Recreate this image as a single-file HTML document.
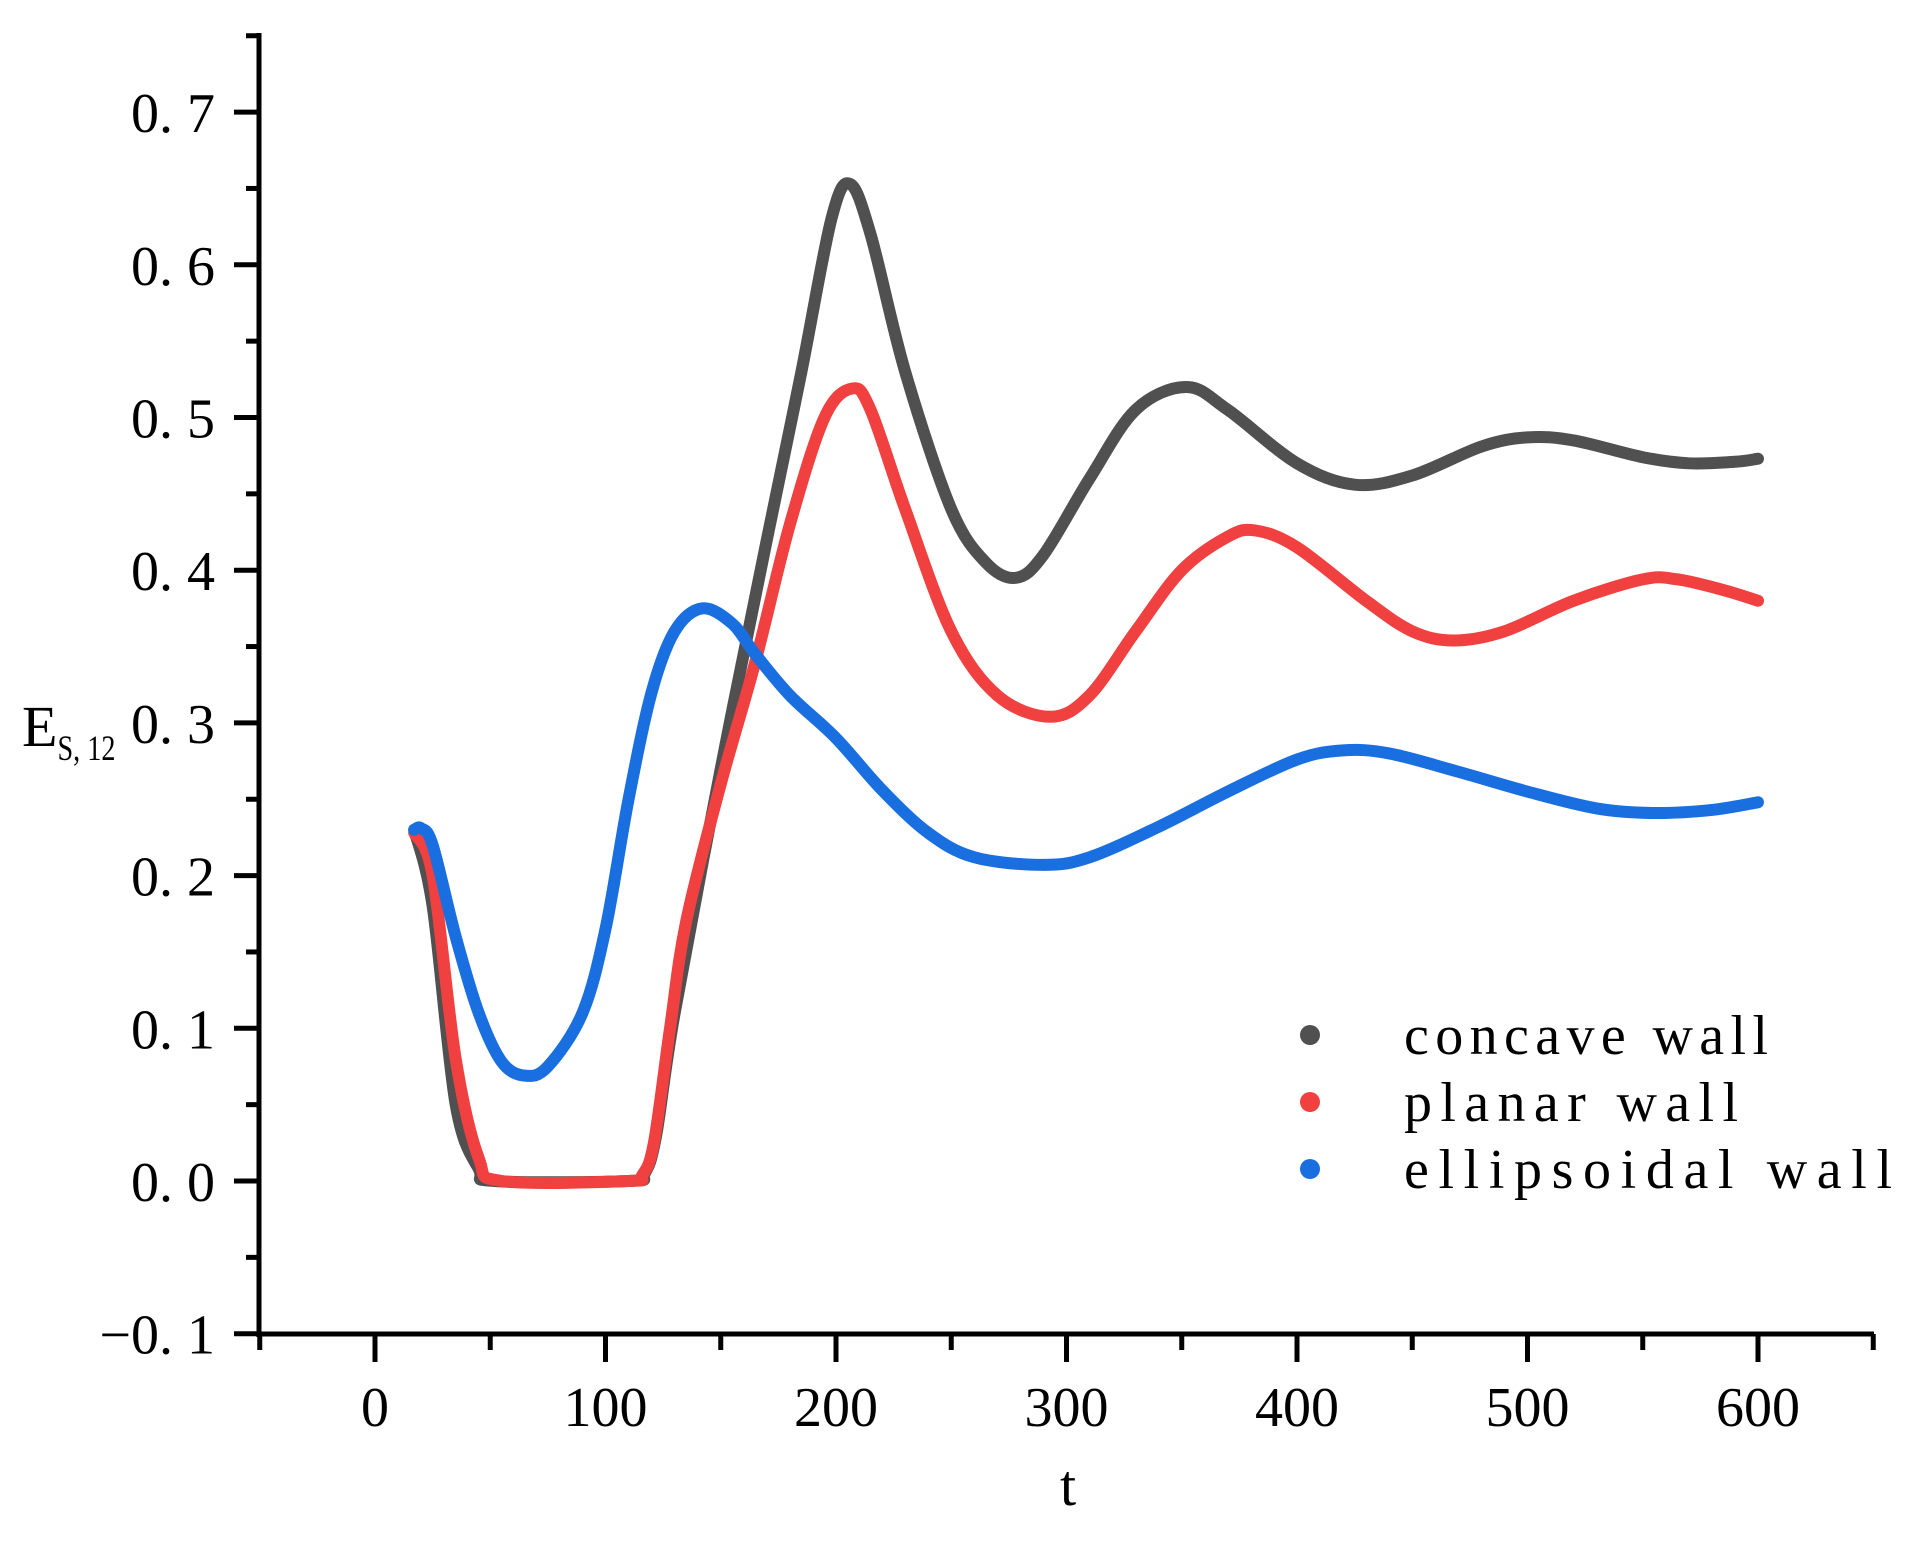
<!DOCTYPE html>
<html><head><meta charset="utf-8"><style>
html,body{margin:0;padding:0;background:#fff;}
svg{display:block;}
text{font-family:"Liberation Serif",serif;fill:#000;}
</style></head><body>
<svg id="s" width="1910" height="1542" viewBox="0 0 1910 1542" xmlns="http://www.w3.org/2000/svg">
<g stroke="#000" stroke-width="5" fill="none">
<line x1="259" y1="33" x2="259" y2="1337"/>
<line x1="256" y1="1334" x2="1874" y2="1334"/>
</g>
<g id="ticks" stroke="#000" stroke-width="5"></g>
<g id="labels" font-size="56"></g>
<text x="1068" y="1505" font-size="58" text-anchor="middle">t</text>
<text x="22" y="746" font-size="58">E<tspan font-size="36" dy="14" textLength="58" lengthAdjust="spacingAndGlyphs">S, 12</tspan></text>
<g id="curves" fill="none" stroke-width="12" stroke-linejoin="round" stroke-linecap="round"></g>
<circle cx="1310" cy="1035" r="10" fill="#505050"/>
<circle cx="1310" cy="1102" r="10" fill="#f04040"/>
<circle cx="1310" cy="1169" r="10" fill="#1a6fe0"/>
<g font-size="56">
<text x="1404" y="1054" textLength="364" lengthAdjust="spacing">concave wall</text>
<text x="1404" y="1121" textLength="334" lengthAdjust="spacing">planar wall</text>
<text x="1404" y="1188" textLength="488" lengthAdjust="spacing">ellipsoidal wall</text>
</g>
</svg>
<script>
const X=t=>375+2.305*t, Y=v=>1181-1527*v;
const NS="http://www.w3.org/2000/svg";
const tk=document.getElementById('ticks'), lb=document.getElementById('labels');
function el(p,n,a,txt){const e=document.createElementNS(NS,n);for(const k in a)e.setAttribute(k,a[k]);if(txt!==undefined)e.textContent=txt;p.appendChild(e);return e;}
for(let i=-2;i<=15;i++){const v=i*0.05,y=Y(v);const maj=i%2==0;
 el(tk,'line',{x1:maj?234:246,x2:259,y1:y,y2:y});
 if(maj){const s=(v<-0.001?'\u2212':'')+'0. '+Math.round(Math.abs(v)*10);
 el(lb,'text',{x:215,y:y+20,'text-anchor':'end'},s);}}
for(let i=-1;i<=13;i++){const t=i*50,x=X(t);const maj=i%2==0;
 el(tk,'line',{x1:x,x2:x,y1:1334,y2:maj?1362:1350});
 if(maj&&t>=0)el(lb,'text',{x:x,y:1426,'text-anchor':'middle'},String(t));}
const data={
"#505050":[[17,.23],[25,.18],[35,.05],[45,.008],[52,0],[110,0],[117,.005],[122,.03],[130,.11],[150,.27],[170,.42],[185,.53],[198,.63],[206,.653],[215,.62],[230,.53],[250,.44],[265,.405],[278,.395],[290,.41],[310,.46],[330,.505],[352,.52],[370,.505],[400,.47],[425,.456],[450,.462],[480,.481],[500,.487],[520,.485],[550,.474],[570,.47],[590,.471],[600,.473]],
"#f04040":[[17,.228],[25,.2],[35,.08],[45,.015],[55,0],[110,0],[116,.004],[121,.025],[128,.1],[135,.17],[150,.26],[165,.34],[180,.43],[195,.5],[207,.519],[215,.505],[230,.44],[250,.36],[270,.318],[293,.304],[310,.318],[330,.36],[350,.4],[370,.422],[382,.426],[400,.415],[430,.38],[450,.36],[468,.354],[490,.36],[520,.38],[550,.394],[565,.394],[585,.387],[600,.38]],
"#1a6fe0":[[17,.23],[20,.231],[25,.22],[35,.16],[45,.11],[55,.078],[65,.069],[75,.075],[90,.11],[100,.165],[110,.25],[120,.32],[130,.36],[142,.375],[155,.365],[165,.345],[180,.318],[200,.29],[220,.256],[240,.228],[260,.212],[290,.207],[310,.212],[340,.232],[370,.255],[400,.276],[420,.282],[440,.28],[470,.268],[500,.255],[530,.244],[555,.241],[580,.243],[600,.248]]};
const cg=document.getElementById('curves');
for(const c in data){const p=data[c].map(([t,v])=>[X(t),Y(v)]);
 let d='M'+p[0][0]+','+p[0][1];
 for(let i=0;i<p.length-1;i++){const p0=p[Math.max(0,i-1)],p1=p[i],p2=p[i+1],p3=p[Math.min(p.length-1,i+2)];
  d+=` C${p1[0]+(p2[0]-p0[0])/6},${p1[1]+(p2[1]-p0[1])/6} ${p2[0]-(p3[0]-p1[0])/6},${p2[1]-(p3[1]-p1[1])/6} ${p2[0]},${p2[1]}`;}
 el(cg,'path',{d:d,stroke:c});}
</script>
</body></html>
